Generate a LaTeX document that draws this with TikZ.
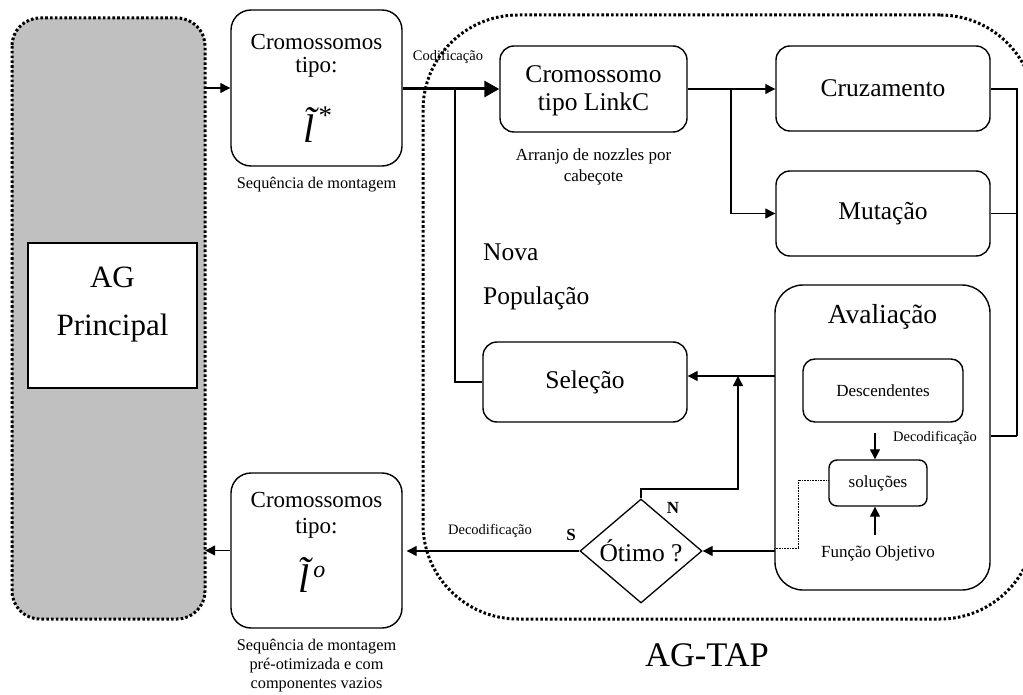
\documentclass[tikz,border=0pt]{standalone}
\usepackage{fontspec}
\setmainfont{Liberation Serif}
\usetikzlibrary{arrows.meta,shapes.geometric}

% font sizes
\newcommand\fsHuge{\fontsize{34.5}{38}\selectfont}
\newcommand\fsAG{\fontsize{31}{36}\selectfont}
\newcommand\fsTitle{\fontsize{27.5}{32}\selectfont}
\newcommand\fsBig{\fontsize{25.5}{30}\selectfont}
\newcommand\fsMid{\fontsize{23}{26}\selectfont}
\newcommand\fsSmall{\fontsize{17}{19}\selectfont}
\newcommand\fsNote{\fontsize{16.3}{18}\selectfont}
\newcommand\fsTiny{\fontsize{14.5}{16}\selectfont}

% italic l with a tilde on top and a raised mark after it
% #1 = mark, #2 = mark size, #3 = mark raise
\newcommand\tildel[3]{{\fontsize{40}{44}\selectfont\itshape
  \makebox[0pt][l]{\hspace{-0.02em}\raisebox{0.2em}{\char"02DC}}l}%
  \hspace{0.14em}\raisebox{#3}{\fontsize{#2}{#2}\selectfont #1}}

\definecolor{panelgray}{RGB}{192,192,192}

\tikzset{
  rbox/.style={draw, line width=1.4pt, fill=white, inner sep=0pt, rounded corners=#1},
  rbox/.default=14pt,
  bigdots/.style={line width=3pt, dash pattern=on 2.6pt off 2.2pt},
  thindots/.style={line width=0.8pt, dash pattern=on 0.8pt off 0.8pt},
  conn/.style={line width=1.3pt},
  arr/.style={conn, -{Triangle[length=10pt,width=10pt]}},
  bigarr/.style={line width=3pt, -{Triangle[length=15pt,width=16pt]}},
  lbl/.style={inner sep=0pt, align=center},
}

\begin{document}
\begin{tikzpicture}[x=1pt,y=-1pt,font=\fsBig]
\clip (0,0) rectangle (1023,695);
\fill[white] (0,0) rectangle (1023,695);

% ---- main GA panel ----
\node[draw=none, fill=panelgray, rounded corners=28pt, minimum width=193pt, minimum height=601pt, inner sep=0pt]
  (gray) at (108.5,318.5) {};
\draw[bigdots, rounded corners=28pt] (12,18) rectangle (205,619);
\node[draw, line width=1.5pt, fill=white, minimum width=169pt, minimum height=145pt, inner sep=0pt]
  (agp) at (112.5,315.5) {};
\node[lbl, font=\fsAG] (agt1) at (112.5,277) {AG};
\node[lbl, font=\fsAG] (agt2) at (112.5,328) {Principal};

% ---- AG-TAP region ----
\node[bigdots, draw, rounded corners=95pt, minimum width=612pt, minimum height=604pt, inner sep=0pt]
  (tap) at (729,317) {};
\node[lbl, font=\fsHuge] (taplbl) at (707,655) {AG-TAP};

% ---- input chromosome ----
\node[rbox=20pt, minimum width=171pt, minimum height=156pt] (topbox) at (316.5,88) {};
\node[lbl, font=\fsMid] (tb1) at (316.5,42) {Cromossomos};
\node[lbl, font=\fsMid] (tb2) at (316.5,67) {tipo:};
\node[inner sep=0pt, anchor=base] (tb3) at (318,143) {\tildel{*}{27}{18pt}};
\node[lbl, font=\fsNote] (tb4) at (316.5,185) {Sequência de montagem};

% ---- output chromosome ----
\node[rbox=20pt, minimum width=171pt, minimum height=155pt] (botbox) at (316.5,550.5) {};
\node[lbl, font=\fsMid] (bb1) at (316.5,500) {Cromossomos};
\node[lbl, font=\fsMid] (bb2) at (316.5,528) {tipo:};
\node[inner sep=0pt, anchor=base] (bb3) at (312,592) {\tildel{\itshape o}{24}{15pt}};
\node[lbl, font=\fsNote] (bb4) at (316.5,647) {Sequência de montagem};
\node[lbl, font=\fsNote] (bb5) at (316.5,666) {pré-otimizada e com};
\node[lbl, font=\fsNote] (bb6) at (316.5,685) {componentes vazios};

% ---- GA operators ----
\node[rbox=14pt, minimum width=187pt, minimum height=86pt] (linkc) at (593.5,89) {};
\node[lbl] (lc1) at (593.5,74) {Cromossomo};
\node[lbl] (lc2) at (593.5,104) {tipo LinkC};
\node[lbl, font=\fsSmall] (lc3) at (593.5,156) {Arranjo de nozzles por};
\node[lbl, font=\fsSmall] (lc4) at (593.5,177) {cabeçote};

\node[rbox=14pt, minimum width=214pt, minimum height=85pt] (cruz) at (883,88.5) {Cruzamento};
\node[rbox=14pt, minimum width=214pt, minimum height=85pt] (mut) at (883,213.5) {Mutação};

\node[rbox=28pt, minimum width=215pt, minimum height=305pt] (aval) at (882.5,437.5) {};
\node[lbl, font=\fsTitle] (avt) at (882.5,317) {Avaliação};
\node[rbox=12pt, minimum width=160pt, minimum height=63pt, font=\fsSmall] (desc) at (883,390.5) {Descendentes};
\node[rbox=8pt, minimum width=98pt, minimum height=46pt, font=\fsSmall] (sol) at (878,483) {soluções};
\node[lbl, font=\fsSmall] (fobj) at (878,553) {Função Objetivo};
\node[lbl, font=\fsTiny] (dec1) at (935,438) {Decodificação};

\node[rbox=14pt, minimum width=204pt, minimum height=80pt] (sel) at (585,382) {Seleção};
\node[anchor=west, inner sep=0pt] (nova1) at (483,252) {Nova};
\node[anchor=west, inner sep=0pt] (nova2) at (483,298) {População};

\node[draw, diamond, line width=1.3pt, minimum width=122pt, minimum height=104pt, inner sep=0pt, fill=white]
  (opt) at (641,551) {};
\node[lbl] (optt) at (641,551) {Ótimo ?};
\node[lbl, font=\fsSmall\bfseries] (nlbl) at (673,508) {N};
\node[lbl, font=\fsSmall\bfseries] (slbl) at (571,535) {S};
\node[lbl, font=\fsTiny] (dec2) at (490,531) {Decodificação};
\node[lbl, font=\fsTiny] (cod) at (448,57) {Codificação};

% ---- connectors ----
\coordinate (j1) at (455,89);
\coordinate (j2) at (731,89);
\coordinate (busb) at (1017,436);
\coordinate (selin) at (775,376);
\coordinate (bend) at (738,489);
\coordinate (d1) at (875,433);
\coordinate (f1) at (875,535);
\coordinate (dl) at (798,548);
\coordinate (ain) at (775,551);

\draw[arr] (gray.east |- topbox.west) -- (topbox.west);
\draw[bigarr] (topbox.east |- j1) -- (j1 -| linkc.west);
\draw[conn] (j1) |- (sel.west);
\draw[conn] (linkc.east |- j2) -- (j2);
\draw[arr] (j2) -- (j2 -| cruz.west);
\draw[arr] (j2) |- (mut.west);
\draw[conn] (cruz.east |- j2) -| (busb);
\draw[conn] (mut.east) -- (mut.east -| busb);
\draw[conn] (busb) -- (busb -| aval.east);
\draw[arr] (selin) -- (selin -| sel.east);
\draw[arr] (d1) -- (d1 |- sol.north);
\draw[arr] (f1) -- (f1 |- sol.south);
\draw[thindots] (sol.west |- 0,480) -| (dl) -- (dl -| aval.west);
\draw[arr] (ain) -- (opt.east);
\draw[arr] (opt.north) |- (bend) -- (bend |- selin);
\draw[arr, shorten >=4pt] (opt.west) -- (opt.west -| botbox.east);
\draw[arr] (botbox.west) -- (botbox.west -| gray.east);
\end{tikzpicture}
\end{document}
